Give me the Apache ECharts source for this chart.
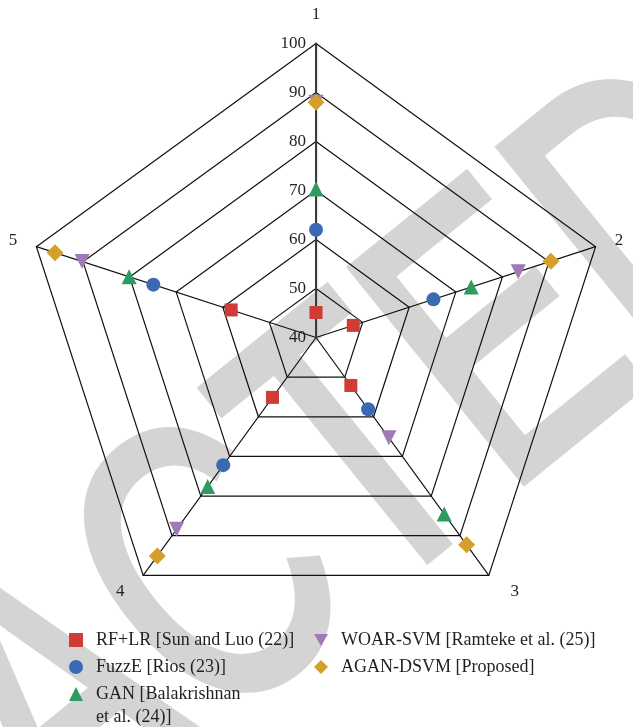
<!DOCTYPE html>
<html>
<head>
<meta charset="utf-8">
<script src="https://cdn.jsdelivr.net/npm/echarts@6/dist/echarts.min.js"></script>
<style>
  html, body { margin: 0; padding: 0; background: #fff; }
  #chart { width: 633px; height: 727px; }
</style>
</head>
<body>
<div id="chart"></div>
<script>
// axes of the radar, clockwise from the top
var axisNames = ['1', '2', '3', '4', '5'];
var axisMin = 40;
var axisMax = 100;
var axisStep = 10;

var methodNames = [
  'RF+LR [Sun and Luo (22)]',
  'FuzzE [Rios (23)]',
  'GAN [Balakrishnan et al. (24)]',
  'WOAR-SVM [Ramteke et al. (25)]',
  'AGAN-DSVM [Proposed]'
];

// values on axes 1..5
var rfLr     = [45.1, 48.0, 52.1, 55.1, 58.2];
var fuzzE    = [62.0, 65.2, 58.1, 72.2, 74.9];
var gan      = [70.3, 73.3, 84.5, 77.6, 80.1];
var woarSvm  = [88.0, 83.4, 65.3, 88.4, 90.2];
var aganDsvm = [88.0, 90.4, 92.3, 95.1, 96.0];

var seriesValues = [rfLr, fuzzE, gan, woarSvm, aganDsvm];
var colors = ['#d13b35', '#3b69b3', '#2e9b60', '#a07ab6', '#d4a02b'];
var symbols = ['rect', 'circle', 'triangle', 'path://M0,0L10,0L5,8.7Z', 'diamond'];
var symbolSizes = [13, 14, 15, 15, 17];

var serifFont = '"Liberation Serif", "DejaVu Serif", serif';
var textColor = '#231f20';

// echarts lays radar axes out counter-clockwise, the figure goes clockwise
var order = [0, 4, 3, 2, 1];
function reorder(arr) {
  return order.map(function (i) { return arr[i]; });
}

var chart = echarts.init(document.getElementById('chart'), null, { renderer: 'canvas' });

var series = methodNames.map(function (name, i) {
  return {
    type: 'radar',
    name: name,
    symbol: symbols[i],
    symbolSize: symbolSizes[i],
    symbolKeepAspect: true,
    itemStyle: { color: colors[i], opacity: 1 },
    lineStyle: { width: 0, opacity: 0 },
    emphasis: { disabled: true },
    data: [{ name: name, value: reorder(seriesValues[i]) }]
  };
});

function legendItem(i) {
  return { name: methodNames[i], icon: symbols[i], itemStyle: { color: colors[i] } };
}

var legendText = { fontSize: 18, lineHeight: 20, color: textColor, fontFamily: serifFont, padding: [0, 0, 0, 8] };

// background watermark
var deg = Math.PI / 180;
var wmSize = 398;
var wmAngle = 39 * deg;
var wmAnchor = [387, 628];
var wmFont = wmSize + 'px "Liberation Sans", Arial, sans-serif';
function wmPart(text, align) {
  return {
    type: 'text', x: wmAnchor[0], y: wmAnchor[1], rotation: wmAngle, scaleX: 0.72, z: -10, silent: true,
    style: {
      text: text, x: 0, y: -0.3465 * wmSize, font: wmFont, fill: '#d4d4d4',
      stroke: '#d4d4d4', lineWidth: 9,
      textAlign: align, textVerticalAlign: 'middle', align: align, verticalAlign: 'middle'
    }
  };
}

var option = {
  backgroundColor: '#fff',
  animation: false,
  graphic: { elements: [wmPart('TED', 'left'), wmPart('RETRAC', 'right')] },
  radar: {
    center: [316, 337.5],
    radius: 294,
    startAngle: 90,
    shape: 'polygon',
    splitNumber: (axisMax - axisMin) / axisStep,
    indicator: reorder(axisNames).map(function (n) {
      return { name: n, min: axisMin, max: axisMax };
    }),
    axisName: {
      color: textColor, fontSize: 17, fontFamily: serifFont,
      formatter: function (name) {
        if (name === '3') return '{right|' + name + '}';
        if (name === '4') return '{left|' + name + '}';
        return name;
      },
      rich: {
        right: { fontSize: 17, fontFamily: serifFont, color: textColor, padding: [0, 0, 0, 10] },
        left: { fontSize: 17, fontFamily: serifFont, color: textColor, padding: [0, 7, 0, 0] }
      }
    },
    nameGap: 20,
    axisLine: { lineStyle: { color: '#111', width: 1.2 } },
    splitLine: { lineStyle: { color: '#111', width: 1.2 } },
    splitArea: { show: false },
    axisLabel: { show: false }
  },
  // value labels along axis 1
  grid: { left: 316, top: 43.5, width: 10, height: 294, show: false },
  xAxis: { type: 'value', show: false },
  yAxis: {
    type: 'value',
    min: axisMin,
    max: axisMax,
    interval: axisStep,
    axisLine: { show: true, lineStyle: { color: '#3a3a3a', width: 2 } },
    axisTick: { show: false },
    splitLine: { show: false },
    axisLabel: { margin: 10, fontSize: 17, color: textColor, fontFamily: serifFont }
  },
  legend: [
    {
      orient: 'vertical', left: 69, top: 630, padding: 0, itemWidth: 14, itemHeight: 14, itemGap: 7,
      selectedMode: false, textStyle: legendText,
      data: [legendItem(0), legendItem(1)]
    },
    {
      orient: 'vertical', left: 69, top: 659.5, padding: 0, itemWidth: 14, itemHeight: 14,
      selectedMode: false,
      textStyle: { fontSize: 18, lineHeight: 23, color: textColor, fontFamily: serifFont, padding: [0, 0, 0, 8] },
      // empty first line keeps the icon level with the first line of text
      formatter: function (name) { return ' \n' + name.replace('Balakrishnan ', 'Balakrishnan\n'); },
      data: [legendItem(2)]
    },
    {
      orient: 'vertical', left: 314, top: 630, padding: 0, itemWidth: 14, itemHeight: 14, itemGap: 7,
      selectedMode: false, textStyle: legendText,
      data: [legendItem(3), legendItem(4)]
    }
  ],
  series: series
};

chart.setOption(option);
</script>
</body>
</html>
